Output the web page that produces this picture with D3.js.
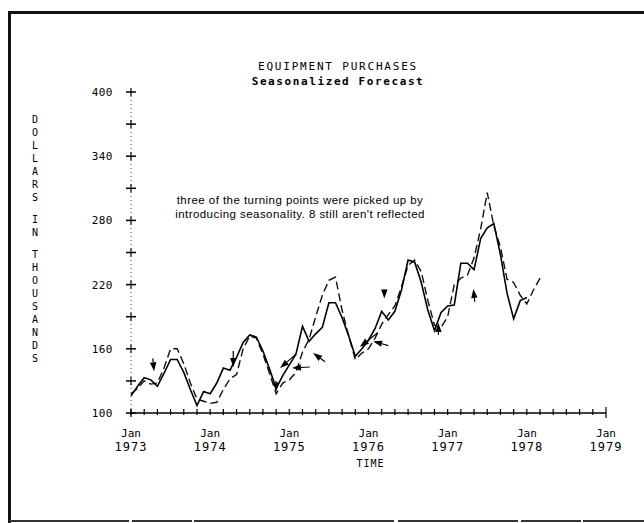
<!DOCTYPE html>
<html>
<head>
<meta charset="utf-8">
<script src="https://cdn.jsdelivr.net/npm/d3@7/dist/d3.min.js"></script>
<style>
  body { margin: 0; background: #fff; }
</style>
</head>
<body>
<div id="chart"></div>
<script>
const width = 644, height = 523;

// monthly values, Jan 1973 onwards (thousands of dollars)
const actual = [116, 125, 133, 131, 125, 137, 150, 150, 138, 122, 107, 120,
                118, 128, 142, 140, 152, 166, 173, 171, 158, 141, 123, 135,
                145, 155, 181, 167, 174, 180, 203, 203, 189, 172, 153, 160,
                168, 179, 195, 187, 195, 215, 243, 241, 222, 196, 177, 194,
                200, 201, 240, 240, 234, 263, 273, 277, 248, 212, 188, 205, 208];
const forecast = [118, 123, 130, 127, 128, 142, 160, 160, 146, 128, 113, 111,
                  109, 110, 122, 132, 136, 160, 172, 170, 155, 137, 118, 128,
                  131, 138, 157, 169, 190, 210, 224, 227, 196, 172, 150, 156,
                  160, 170, 183, 192, 200, 218, 238, 243, 232, 205, 182, 180,
                  190, 220, 226, 229, 245, 272, 306, 275, 255, 225, 222, 210, 202, 215, 226];

const yTicks = [100, 130, 160, 190, 220, 250, 280, 310, 340, 370, 400];
const yLabels = [100, 160, 220, 280, 340, 400];
const xTicks = d3.range(0, 73, 2);
const xYears = [1973, 1974, 1975, 1976, 1977, 1978, 1979];
const yTitle = "DOLLARS IN THOUSANDS";
const notes = ["three of the turning points were picked up by",
               "introducing seasonality. 8 still aren't reflected"];
// turning point arrows: head month, head value, tail month, tail value
const arrows = [
  [3.5, 139, 3.3, 151],
  [15.5, 143, 15.5, 158],
  [22, 120, 22, 130],
  [22.6, 142, 25, 155],
  [24.4, 142, 27.1, 143],
  [27.6, 156, 29.4, 148],
  [34.7, 162, 37.4, 175],
  [36.7, 167, 39, 163],
  [38.4, 207, 38.4, 215],
  [46.6, 184, 46.6, 173],
  [51.9, 216, 52.1, 204]
];

const mono = "'DejaVu Sans Mono', 'Liberation Mono', monospace";

const svg = d3.select("#chart").append("svg")
  .attr("width", width)
  .attr("height", height);

// frame of the original sheet
svg.append("path")
  .attr("d", "M9.5,523 V12.5 H644")
  .attr("fill", "none")
  .attr("stroke", "#111")
  .attr("stroke-width", 3);
svg.append("line")
  .attr("x1", 9).attr("x2", 644)
  .attr("y1", 521).attr("y2", 521)
  .attr("stroke", "#333")
  .attr("stroke-width", 2)
  .attr("stroke-dasharray", "120,3,60,2,200,4");

const x = d3.scaleLinear().domain([0, 72]).range([131, 606]);
const y = d3.scaleLinear().domain([100, 400]).range([413, 92]);

// y axis: dotted line with cross ticks
svg.append("line")
  .attr("x1", x(0)).attr("x2", x(0))
  .attr("y1", y(100)).attr("y2", y(400))
  .attr("stroke", "#444")
  .attr("stroke-width", 1)
  .attr("stroke-dasharray", "1,3");

const yt = svg.append("g").selectAll("g")
  .data(yTicks)
  .enter().append("g");
yt.append("line")
  .attr("x1", x(0) - 5).attr("x2", x(0) + 5)
  .attr("y1", d => y(d)).attr("y2", d => y(d))
  .attr("stroke", "#000").attr("stroke-width", 1.5);
yt.append("line")
  .attr("x1", x(0)).attr("x2", x(0))
  .attr("y1", d => y(d) - 4).attr("y2", d => y(d) + 4)
  .attr("stroke", "#000").attr("stroke-width", 1.2);

svg.append("g").selectAll("text")
  .data(yLabels)
  .enter().append("text")
  .attr("x", x(0) - 18)
  .attr("y", d => y(d) + 4)
  .attr("text-anchor", "end")
  .style("font-family", mono)
  .style("font-size", "11px")
  .style("letter-spacing", "0.5px")
  .text(d => d);

// x axis
svg.append("line")
  .attr("x1", x(0)).attr("x2", x(72))
  .attr("y1", y(100)).attr("y2", y(100))
  .attr("stroke", "#000").attr("stroke-width", 1.5);

svg.append("g").selectAll("line")
  .data(xTicks)
  .enter().append("line")
  .attr("x1", d => x(d)).attr("x2", d => x(d))
  .attr("y1", d => y(100) - (d === 72 ? 6 : 4))
  .attr("y2", d => y(100) + (d === 72 ? 5 : 2))
  .attr("stroke", "#000").attr("stroke-width", 1.2);

const xl = svg.append("g").selectAll("g")
  .data(xYears)
  .enter().append("g")
  .attr("transform", (d, i) => `translate(${x(i * 12)},0)`);
xl.append("text")
  .attr("y", 437)
  .attr("text-anchor", "middle")
  .style("font-family", mono)
  .style("font-size", "11px")
  .text("Jan");
xl.append("text")
  .attr("y", 451)
  .attr("text-anchor", "middle")
  .style("font-family", mono)
  .style("font-size", "12px")
  .style("letter-spacing", "1px")
  .text(d => d);

svg.append("text")
  .attr("x", x(36) + 2)
  .attr("y", 467)
  .attr("text-anchor", "middle")
  .style("font-family", mono)
  .style("font-size", "10px")
  .style("letter-spacing", "1px")
  .text("TIME");

// vertical axis title, one letter per line
let ly = 123;
const letters = [];
for (const ch of yTitle) {
  if (ch === " ") { ly += 9; continue; }
  letters.push({ ch, y: ly });
  ly += 13;
}
svg.append("g").selectAll("text")
  .data(letters)
  .enter().append("text")
  .attr("x", 35)
  .attr("y", d => d.y)
  .attr("text-anchor", "middle")
  .style("font-family", mono)
  .style("font-size", "10px")
  .text(d => d.ch);

// titles
svg.append("text")
  .attr("x", 338).attr("y", 70)
  .attr("text-anchor", "middle")
  .style("font-family", mono)
  .style("font-size", "11px")
  .style("letter-spacing", "1.8px")
  .text("EQUIPMENT PURCHASES");
svg.append("text")
  .attr("x", 338).attr("y", 85)
  .attr("text-anchor", "middle")
  .style("font-family", mono)
  .style("font-size", "11px")
  .style("font-weight", "bold")
  .style("letter-spacing", "1.6px")
  .text("Seasonalized Forecast");

svg.append("g").selectAll("text")
  .data(notes)
  .enter().append("text")
  .attr("x", 300)
  .attr("y", (d, i) => 204 + i * 13.5)
  .attr("text-anchor", "middle")
  .style("font-family", "'Liberation Sans', Arial, sans-serif")
  .style("font-size", "11.5px")
  .style("letter-spacing", "0.45px")
  .text(d => d);

// series
const line = d3.line()
  .x((d, i) => x(i))
  .y(d => y(d));

svg.append("path")
  .datum(forecast)
  .attr("fill", "none")
  .attr("stroke", "#111")
  .attr("stroke-width", 1.4)
  .attr("stroke-dasharray", "8,4")
  .attr("d", line);

svg.append("path")
  .datum(actual)
  .attr("fill", "none")
  .attr("stroke", "#000")
  .attr("stroke-width", 1.6)
  .attr("d", line);

// arrows marking turning points
const ag = svg.append("g");
arrows.forEach(a => {
  const hx = x(a[0]), hy = y(a[1]), tx = x(a[2]), ty = y(a[3]);
  const ang = Math.atan2(hy - ty, hx - tx);
  const len = 9, half = 3.2;
  const bx = hx - len * Math.cos(ang), by = hy - len * Math.sin(ang);
  const px = -Math.sin(ang) * half, py = Math.cos(ang) * half;
  ag.append("line")
    .attr("x1", tx).attr("y1", ty).attr("x2", bx).attr("y2", by)
    .attr("stroke", "#000").attr("stroke-width", 1.2);
  ag.append("path")
    .attr("d", `M${hx},${hy} L${bx + px},${by + py} L${bx - px},${by - py} Z`)
    .attr("fill", "#000");
});
</script>
</body>
</html>
